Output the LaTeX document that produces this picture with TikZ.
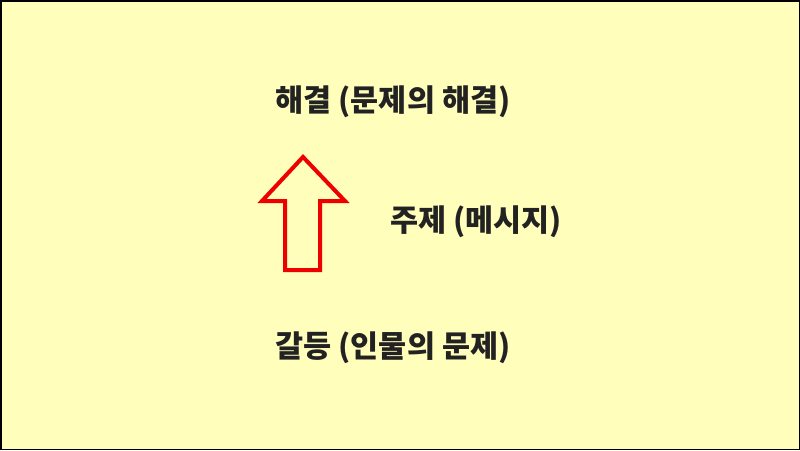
\documentclass[tikz,border=0pt]{standalone}
\usepackage{fontspec}
\newfontfamily\kr{Noto Sans CJK KR}
\definecolor{bg}{HTML}{FFFFBB}
\definecolor{ink}{HTML}{222222}
\definecolor{arrowred}{HTML}{EE0000}
\begin{document}
\begin{tikzpicture}[x=1pt,y=-1pt,
  lbl/.style={font=\kr\bfseries\fontsize{30.5}{36}\selectfont, text=ink, inner sep=0pt, anchor=center}]
\useasboundingbox (0,0) rectangle (800,450);
\draw[fill=bg, draw=black, line width=1.5pt] (0.75,0.75) rectangle (799.25,449.25);
\node[lbl] (sol) at (393,102) {해결 (문제의 해결)};
\node[lbl] (theme) at (476,222) {주제 (메시지)};
\node[lbl] (conf) at (393,348) {갈등 (인물의 문제)};
\draw[arrowred, line width=4pt, line join=miter]
  (303,157) -- (345,201) -- (320,201) -- (320,270) -- (285,270) -- (285,201) -- (262,201) -- cycle;
\end{tikzpicture}
\end{document}
